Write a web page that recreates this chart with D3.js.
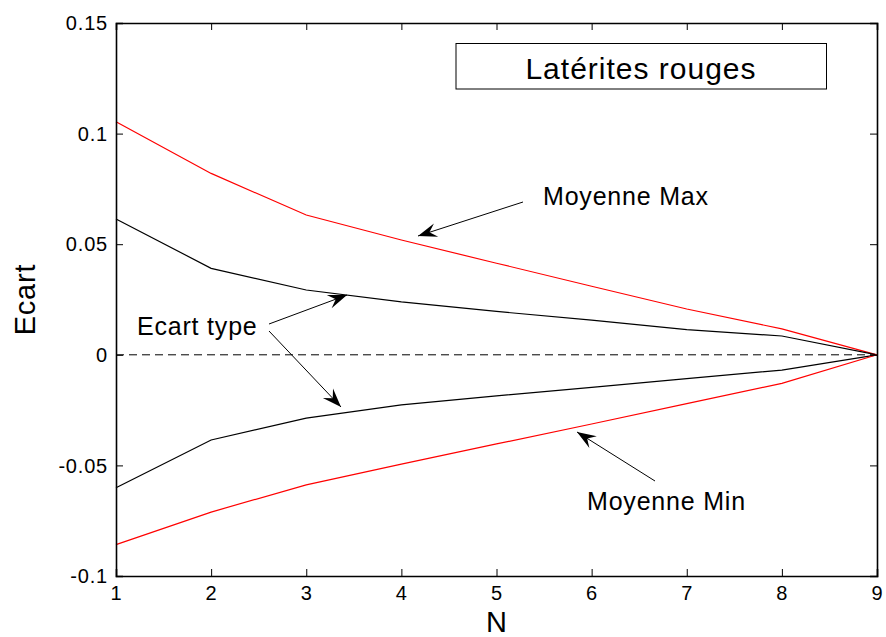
<!DOCTYPE html>
<html>
<head>
<meta charset="utf-8">
<script src="https://cdn.jsdelivr.net/npm/d3@7"></script>
<style>
html,body{margin:0;padding:0;background:#fff;}
svg{display:block;font-family:"Liberation Sans",Arial,Helvetica,sans-serif;}
</style>
</head>
<body>
<svg id="chart" width="886" height="637"></svg>
<script>
// ---- data ----
const nValues = [1, 2, 3, 4, 5, 6, 7, 8, 9];
const moyenneMax = [0.1054, 0.0820, 0.0632, 0.0519, 0.0414, 0.0310, 0.0207, 0.0117, 0.0];
const ecartTypeHaut = [0.0614, 0.0391, 0.0293, 0.0239, 0.0196, 0.0157, 0.0114, 0.0085, 0.0];
const ecartTypeBas = [-0.0601, -0.0385, -0.0286, -0.0226, -0.0186, -0.0147, -0.0108, -0.0069, 0.0];
const moyenneMin = [-0.0858, -0.0711, -0.0588, -0.0494, -0.0403, -0.0313, -0.0221, -0.0129, 0.0];
const xTicks = [1, 2, 3, 4, 5, 6, 7, 8, 9];
const yTicks = [-0.1, -0.05, 0, 0.05, 0.1, 0.15];
const yTickLabels = ["-0.1", "-0.05", "0", "0.05", "0.1", "0.15"];
const titleText = "Latérites rouges";
const xLabel = "N";
const yLabel = "Ecart";

// ---- layout ----
const svg = d3.select("#chart");
const L = 116, R = 877, T = 23, B = 576;
const x = d3.scaleLinear().domain([1, 9]).range([L, R]);
const y = d3.scaleLinear().domain([-0.1, 0.15]).range([B, T]);

// zero dashed line
svg.append("line")
  .attr("x1", x(1)).attr("x2", x(9))
  .attr("y1", y(0)).attr("y2", y(0))
  .attr("stroke", "#000").attr("stroke-width", 1)
  .attr("stroke-dasharray", "8,5");

// series
const line = d3.line().x((d, i) => x(nValues[i])).y(d => y(d));
const series = [
  {v: moyenneMax, c: "#ff0000"},
  {v: ecartTypeHaut, c: "#000000"},
  {v: ecartTypeBas, c: "#000000"},
  {v: moyenneMin, c: "#ff0000"}
];
series.forEach(s => {
  svg.append("path").datum(s.v)
    .attr("d", line)
    .attr("fill", "none")
    .attr("stroke", s.c)
    .attr("stroke-width", 1.2);
});

// axes (MATLAB box style, inward ticks)
const tick = 7;
const gL = svg.append("g").attr("transform", `translate(${L},0)`)
  .call(d3.axisLeft(y).tickValues(yTicks).tickSize(-tick).tickFormat(""));
const gR = svg.append("g").attr("transform", `translate(${R},0)`)
  .call(d3.axisRight(y).tickValues(yTicks).tickSize(-tick).tickFormat(""));
const gB = svg.append("g").attr("transform", `translate(0,${B})`)
  .call(d3.axisBottom(x).tickValues(xTicks).tickSize(-tick).tickFormat(""));
const gT = svg.append("g").attr("transform", `translate(0,${T})`)
  .call(d3.axisTop(x).tickValues(xTicks).tickSize(-tick).tickFormat(""));
[gL, gR, gB, gT].forEach(g => {
  g.selectAll("path.domain").attr("stroke", "#000").attr("stroke-width", 1.6);
  g.selectAll(".tick line").attr("stroke", "#000").attr("stroke-width", 1);
});

// tick labels
svg.append("g").selectAll("text").data(yTicks).join("text")
  .attr("x", L - 8).attr("y", d => y(d))
  .attr("dy", "0.36em")
  .attr("text-anchor", "end")
  .attr("font-size", 20).attr("letter-spacing", 0.8)
  .text((d, i) => yTickLabels[i]);
svg.append("g").selectAll("text").data(xTicks).join("text")
  .attr("x", d => x(d)).attr("y", 600)
  .attr("text-anchor", "middle")
  .attr("font-size", 20)
  .text(d => d);

// axis labels
svg.append("text").attr("x", (L + R) / 2).attr("y", 632)
  .attr("text-anchor", "middle").attr("font-size", 29).text(xLabel);
svg.append("text")
  .attr("transform", `translate(35,${(T + B) / 2}) rotate(-90)`)
  .attr("text-anchor", "middle").attr("font-size", 29).attr("letter-spacing", 0.8)
  .text(yLabel);

// title box
svg.append("rect").attr("x", 456).attr("y", 43.5).attr("width", 370.5).attr("height", 45.5)
  .attr("fill", "#fff").attr("stroke", "#000").attr("stroke-width", 1);
svg.append("text").attr("x", 641).attr("y", 79)
  .attr("text-anchor", "middle").attr("font-size", 30).attr("letter-spacing", 1)
  .text(titleText);

// annotations with arrows
function arrow(x1, y1, x2, y2) {
  svg.append("line").attr("x1", x1).attr("y1", y1).attr("x2", x2).attr("y2", y2)
    .attr("stroke", "#000").attr("stroke-width", 1);
  const a = Math.atan2(y2 - y1, x2 - x1);
  const len = 19, w = 7, notch = 12;
  const ux = Math.cos(a), uy = Math.sin(a);
  const px = -uy, py = ux;
  const bx = x2 - ux * len, by = y2 - uy * len;
  const nx = x2 - ux * notch, ny = y2 - uy * notch;
  svg.append("path")
    .attr("d", `M${x2},${y2} L${bx + px * w},${by + py * w} L${nx},${ny} L${bx - px * w},${by - py * w} Z`)
    .attr("fill", "#000");
}
const annFont = 25, annSpacing = 0.8;
svg.append("text").attr("x", 543).attr("y", 205)
  .attr("font-size", annFont).attr("letter-spacing", annSpacing).text("Moyenne Max");
arrow(523, 202, 418, 236);

svg.append("text").attr("x", 587).attr("y", 510)
  .attr("font-size", annFont).attr("letter-spacing", annSpacing).text("Moyenne Min");
arrow(655, 481, 577, 432);

svg.append("text").attr("x", 137).attr("y", 335)
  .attr("font-size", annFont).attr("letter-spacing", annSpacing).text("Ecart type");
arrow(269, 324, 347, 295);
arrow(269, 331, 341, 407);
</script>
</body>
</html>
